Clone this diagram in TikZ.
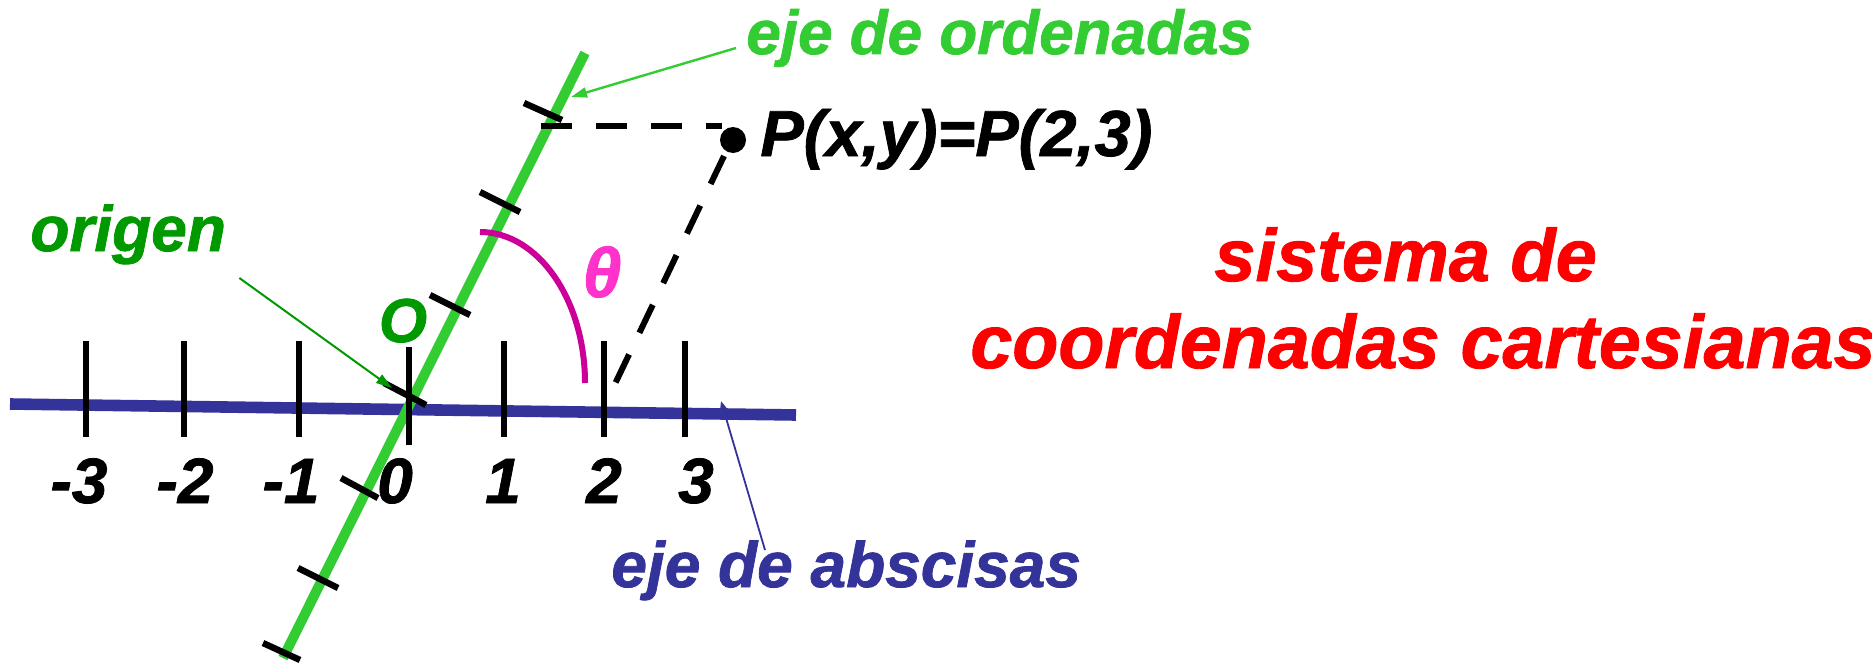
\documentclass[tikz,border=0pt]{standalone}
\usepackage{fontspec}
\setmainfont{Liberation Sans}[BoldItalicFeatures={FakeBold=1.2}]
\usetikzlibrary{arrows.meta}
\definecolor{axblue}{HTML}{333399}
\definecolor{axgreen}{HTML}{33CC33}
\definecolor{dkgreen}{HTML}{009900}
\definecolor{arcmag}{HTML}{CC0099}
\definecolor{thpink}{HTML}{FF33CC}
\definecolor{tred}{HTML}{FF0000}
\begin{document}
\begin{tikzpicture}[x=0.5pt,y=-0.5pt,
  lbl/.style={inner sep=0pt, font=\bfseries\itshape\fontsize{#1}{#1}\selectfont},
  tickb/.style={line width=3pt, black},
  tickg/.style={line width=3.2pt, black},
  dsh/.style={line width=3pt, black, dash pattern=on 15.5pt off 12pt},
  ]
\useasboundingbox (0,0) rectangle (1872,664);
\fill[white] (0,0) rectangle (1872,664);

% abscissa axis
\coordinate (xa) at (10,404);
\coordinate (xb) at (796,415);
\draw[axblue, line width=5.8pt] (xa) -- (xb);

% ordinate axis
\coordinate (ya) at (585,53);
\coordinate (yb) at (283,658);
\draw[axgreen, line width=5pt] (yb) -- (ya);

% ticks on abscissa axis
\foreach \x in {86,184,299,504,604,685}
  \draw[tickb] (\x,341) -- (\x,437);
\draw[tickb] (409,347) -- (409,445);

% ticks on ordinate axis
\draw[tickg] (524,103) -- (562,120);
\draw[tickg] (480,192) -- (520,212);
\draw[tickg] (430,295) -- (470,315);
\draw[tickg] (384,383) -- (426,405);
\draw[tickg] (341,478) -- (378,498);
\draw[tickg] (298,568) -- (338,588);
\draw[tickg] (263,643) -- (300,660);

% angle arc
\draw[arcmag, line width=3pt] (480,232) arc[start angle=-90, end angle=0, x radius=105, y radius=151];
\node[lbl=35, text=thpink, anchor=base] (th) at (602,297) {θ};

% point P
\node[circle, fill=black, inner sep=0pt, minimum size=13pt] (P) at (733,140) {};
\coordinate (hs) at (541,126);
\coordinate (he) at (722,126);
\draw[dsh] (hs) -- (he);
\coordinate (ds) at (724,156);
\coordinate (de) at (613,388);
\draw[dsh] (ds) -- (de);
\node[lbl=32.5, anchor=base west] (Pl) at (760,156) {P(x,y)=P(2,3)};

% numbers
\node[lbl=32, anchor=base] (m3) at (79,503) {-3};
\node[lbl=32, anchor=base] (m2) at (185,503) {-2};
\node[lbl=32, anchor=base] (m1) at (291,503) {-1};
\node[lbl=32, anchor=base] (z0) at (395,503) {0};
\node[lbl=32, anchor=base] (p1) at (503,503) {1};
\node[lbl=32, anchor=base] (p2) at (604,503) {2};
\node[lbl=32, anchor=base] (p3) at (696,503) {3};

% origin
\node[lbl=31, text=dkgreen, anchor=base] (O) at (403,342) {O};
\node[lbl=32, text=dkgreen, anchor=base west] (org) at (30,251) {origen};
\coordinate (orgtip) at (392,388);
\draw[dkgreen, line width=1pt, -{Triangle[length=8pt,width=5pt]}] ([shift={(13,27)}]org.base east) -- (orgtip);

% ordinate label
\node[lbl=31, text=axgreen, anchor=base west] (ord) at (746,54) {eje de ordenadas};
\coordinate (ordtip) at (571,97);
\draw[axgreen, line width=1.2pt, -{Triangle[length=8pt,width=5pt]}] ([shift={(-10,-6)}]ord.base west) -- (ordtip);

% abscissa label
\node[lbl=32, text=axblue, anchor=base west] (abs) at (611,587) {eje de abscisas};
\coordinate (abstip) at (721,401);
\draw[axblue, line width=0.9pt, -{Triangle[length=4pt,width=3pt]}] (765,550) -- (abstip);

% title
\node[lbl=37, text=tred, anchor=base west] (t1) at (1214,281) {sistema de};
\node[lbl=37.7, text=tred, anchor=base west] (t2) at (970,368) {coordenadas cartesianas};
\end{tikzpicture}
\end{document}
